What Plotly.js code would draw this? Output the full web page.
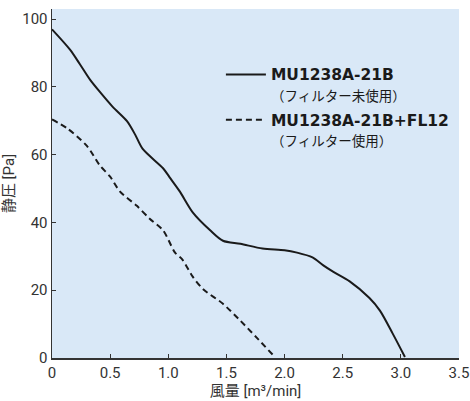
<!DOCTYPE html>
<html><head><meta charset="utf-8">
<script src="https://cdn.plot.ly/plotly-3.0.1.min.js"></script>
<style>body{margin:0;background:#fff}#c{width:470px;height:401px}</style>
</head><body><div id="c"></div>
<script>
const seriesNames = ["<span style='font-family:DejaVu Sans'><b>MU1238A-21B</b></span><br><span style='font-size:13.5px'>（フィルター未使用）</span>",
                     "<span style='font-family:DejaVu Sans'><b>MU1238A-21B+FL12</b></span><br><span style='font-size:13.5px'>（フィルター使用）</span>"];
const flowNoFilter = [0, 0.155, 0.24, 0.33, 0.41, 0.52, 0.645, 0.714, 0.78, 0.955, 1.01, 1.10, 1.21, 1.36, 1.47, 1.62, 1.81, 2.0, 2.107, 2.24, 2.33, 2.42, 2.56, 2.73, 2.82, 2.93, 3.035];
const pressNoFilter = [97, 91, 86.7, 82, 78.6, 74.2, 69.9, 66, 61.7, 56, 53.4, 49.1, 43, 37.7, 34.6, 33.7, 32.3, 31.8, 31.1, 29.7, 27.4, 25.4, 22.6, 17.7, 14, 7.2, 0.3];
const flowFilter = [0, 0.13, 0.30, 0.41, 0.50, 0.585, 0.73, 0.84, 0.955, 1.058, 1.12, 1.21, 1.30, 1.47, 1.62, 1.76, 1.90];
const pressFilter = [70.4, 67.8, 62.6, 56.9, 53.5, 49.1, 44.9, 41.1, 37.7, 31.1, 29.1, 24, 20.3, 16, 11, 6, 0.9];
const xTicks = [0, 0.5, 1.0, 1.5, 2.0, 2.5, 3.0, 3.5];
const xTickText = ["0", "0.5", "1.0", "1.5", "2.0", "2.5", "3.0", "3.5"];
const yTicks = [0, 20, 40, 60, 80, 100];

const numFont = "Roboto, 'Liberation Sans', sans-serif";
const jpFont = "Roboto, 'Noto Sans CJK JP', sans-serif";

const traces = [
  {x: flowNoFilter, y: pressNoFilter, mode: "lines", name: seriesNames[0], legendgroup: "a",
   line: {color: "#1a1a1a", width: 2, shape: "spline", smoothing: 0.8}},
  {x: flowFilter, y: pressFilter, mode: "lines", name: seriesNames[1], legendgroup: "b",
   line: {color: "#1a1a1a", width: 2, shape: "spline", smoothing: 0.8, dash: "6px,4px"}}
];

const layout = {
  width: 470, height: 401,
  margin: {l: 52, r: 11, t: 9, b: 43},
  paper_bgcolor: "#ffffff",
  plot_bgcolor: "#d9e8f7",
  showlegend: true,
  legend: {x: 0.415, y: 0.86, xanchor: "left", yanchor: "top", traceorder: "grouped",
           bgcolor: "rgba(0,0,0,0)", itemwidth: 40, valign: "top", tracegroupgap: 2,
           font: {family: "'Noto Sans CJK JP', sans-serif", size: 15.5, color: "#1a1a1a"}},
  xaxis: {range: [0, 3.5], tickvals: xTicks, ticktext: xTickText,
          showgrid: false, zeroline: false, showline: true, linecolor: "#333", linewidth: 1.5,
          ticks: "inside", ticklen: 4, tickcolor: "#333", mirror: false,
          tickfont: {family: numFont, size: 15, color: "#333"},
          title: {text: "風量 [m³/min]", font: {family: jpFont, size: 15, color: "#333"}, standoff: 0}},
  yaxis: {range: [0, 103], tickvals: yTicks,
          showgrid: false, zeroline: false, showline: true, linecolor: "#333", linewidth: 1.5,
          ticks: "inside", ticklen: 4, tickcolor: "#333",
          tickfont: {family: numFont, size: 15, color: "#333"},
          title: {text: "静圧 [Pa]", font: {family: jpFont, size: 15, color: "#333"}, standoff: 5}}
};
Plotly.newPlot("c", traces, layout, {displayModeBar: false, staticPlot: true});
</script></body></html>
